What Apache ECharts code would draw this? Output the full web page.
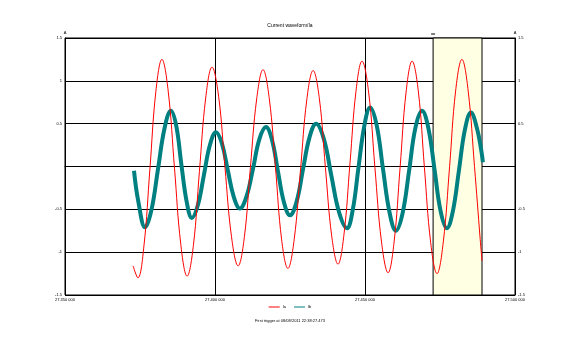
<!DOCTYPE html>
<html>
<head>
<meta charset="utf-8">
<script src="https://cdn.jsdelivr.net/npm/echarts@6/dist/echarts.min.js"></script>
<style>
  html, body { margin: 0; padding: 0; background: #fff; }
  #chart { width: 580px; height: 351px; }
</style>
</head>
<body>
<div id="chart"></div>
<script>
// 波形数据 (时间 ms, 电流)
var titleText = 'Current waveform/Ia'
var footerText = 'First trigger at 08/08/2011 22:38:27.473'
var seriesNames = ['Ia', 'Ib']
var xTickLabels = ['27.350 000', '27.400 000', '27.450 000', '27.500 000']
var yTickLabels = { '-1.5': '-1.5', '-1': '-1', '-0.5': '-0.5', '0': '', '0.5': '0.5', '1': '1', '1.5': '1.5' }
var triggerWindow = [122.7, 139.0]

var redPoints = [
  [22.7, -1.16], [24.3, -1.30],
  [26.3, -0.93], [28.3, -0.03], [30.3, 0.88], [32.3, 1.25],
  [34.4, 0.88], [36.5, -0.02], [38.6, -0.91], [40.7, -1.28],
  [42.8, -0.92], [44.8, -0.06], [46.9, 0.80], [49.0, 1.16],
  [51.2, 0.82], [53.3, 0.00], [55.5, -0.82], [57.7, -1.16],
  [59.8, -0.82], [61.8, -0.01], [63.9, 0.79], [66.0, 1.13],
  [68.1, 0.79], [70.2, -0.03], [72.2, -0.85], [74.3, -1.19],
  [76.4, -0.85], [78.5, -0.04], [80.6, 0.78], [82.7, 1.12],
  [84.8, 0.79], [86.8, -0.01], [88.9, -0.81], [91.0, -1.14],
  [93.0, -0.79], [95.0, 0.04], [97.0, 0.88], [99.0, 1.23],
  [101.2, 0.87], [103.3, -0.01], [105.5, -0.88], [107.7, -1.24],
  [109.7, -0.88], [111.7, -0.01], [113.7, 0.87], [115.7, 1.23],
  [117.8, 0.87], [119.8, -0.01], [121.9, -0.89], [124.0, -1.25],
  [126.1, -0.88], [128.2, 0.00], [130.2, 0.88], [132.3, 1.25],
  [134.4, 0.88], [136.5, 0.00], [138.4, -0.85], [139.0, -1.10]
]

var tealPoints = [
  [23.0, -0.05], [24.4, -0.40], [26.7, -0.71],
  [28.8, -0.51], [31.0, -0.03], [33.2, 0.45], [35.3, 0.65],
  [37.1, 0.47], [38.8, 0.02], [40.6, -0.42], [42.3, -0.60],
  [44.3, -0.45], [46.3, -0.10], [48.3, 0.25], [50.3, 0.40],
  [52.3, 0.27], [54.3, -0.05], [56.3, -0.36], [58.3, -0.49],
  [60.5, -0.35], [62.7, -0.02], [64.8, 0.32], [67.0, 0.46],
  [69.0, 0.31], [71.0, -0.06], [73.0, -0.42], [75.0, -0.57],
  [77.2, -0.41], [79.3, -0.04], [81.5, 0.34], [83.7, 0.50],
  [86.3, 0.32], [88.8, -0.11], [91.4, -0.54], [94.0, -0.72],
  [95.9, -0.51], [97.8, -0.02], [99.8, 0.48], [101.7, 0.69],
  [103.9, 0.48], [106.0, -0.03], [108.2, -0.54], [110.3, -0.75],
  [112.5, -0.55], [114.7, -0.05], [116.8, 0.45], [119.0, 0.65],
  [121.1, 0.45], [123.2, -0.04], [125.2, -0.52], [127.3, -0.72],
  [129.3, -0.52], [131.3, -0.05], [133.3, 0.43], [135.3, 0.63],
  [137.3, 0.45], [138.7, 0.20], [139.3, 0.05]
]

var myChart = echarts.init(document.getElementById('chart'))

var tinyFont = { fontSize: 4, color: '#000', fontFamily: 'Liberation Sans' }

function yAxisCfg(pos) {
  return {
    type: 'value',
    position: pos,
    min: -1.5,
    max: 1.5,
    interval: 0.5,
    name: 'A',
    nameGap: 3,
    nameTextStyle: tinyFont,
    axisLine: { show: true, lineStyle: { color: '#000', width: 1 } },
    axisTick: { show: false },
    axisLabel: {
      fontSize: 4, color: '#000', margin: 3, fontFamily: 'Liberation Sans',
      formatter: function (v) { return yTickLabels[String(v)] }
    },
    splitLine: { show: pos === 'left', lineStyle: { color: '#000', width: 1 } }
  }
}

var option = {
  backgroundColor: '#fff',
  animation: false,
  title: [
    {
      text: titleText, left: 'center', top: 18,
      textStyle: { fontSize: 5, fontWeight: 'normal', color: '#000', fontFamily: 'Liberation Sans' }
    },
    {
      text: footerText, left: 'center', top: 314,
      textStyle: { fontSize: 4, fontWeight: 'normal', color: '#000', fontFamily: 'Liberation Sans' }
    }
  ],
  legend: {
    data: seriesNames,
    top: 300,
    left: 'center',
    icon: 'rect',
    itemWidth: 11,
    itemHeight: 1,
    itemGap: 8,
    textStyle: { fontSize: 4, color: '#000', padding: [0, 0, 0, -2] }
  },
  grid: { left: 65, right: 65, top: 38, bottom: 56, show: true, borderColor: '#000', borderWidth: 1, backgroundColor: 'transparent' },
  xAxis: {
    type: 'value',
    min: 0,
    max: 150,
    interval: 50,
    axisLine: { show: true, lineStyle: { color: '#000' } },
    axisTick: { show: false },
    axisLabel: {
      fontSize: 4, color: '#000', margin: 3, fontFamily: 'Liberation Sans',
      formatter: function (v) { return xTickLabels[Math.round(v / 50)] }
    },
    splitLine: { show: true, lineStyle: { color: '#000', width: 1 } }
  },
  yAxis: [yAxisCfg('left'), yAxisCfg('right')],
  series: [
    {
      name: seriesNames[1],
      type: 'line',
      data: tealPoints,
      showSymbol: false,
      smooth: 0.4,
      z: 3,
      itemStyle: { color: '#008080' },
      lineStyle: { color: '#008080', width: 4 },
      markArea: {
        silent: true,
        itemStyle: { color: '#FFFFE4', borderColor: '#000', borderWidth: 1 },
        data: [[{ xAxis: triggerWindow[0] }, { xAxis: triggerWindow[1] }]]
      }
    },
    {
      name: seriesNames[0],
      type: 'line',
      data: redPoints,
      showSymbol: false,
      smooth: 0.4,
      z: 4,
      itemStyle: { color: '#FF0000' },
      lineStyle: { color: '#FF0000', width: 1 },
      markPoint: {
        silent: true,
        symbol: 'rect',
        symbolSize: [4, 1],
        symbolOffset: [0, -4],
        itemStyle: { color: '#000' },
        label: { show: false },
        data: [{ coord: [triggerWindow[0], 1.5] }]
      }
    }
  ]
}
myChart.setOption(option)
</script>
</body>
</html>
